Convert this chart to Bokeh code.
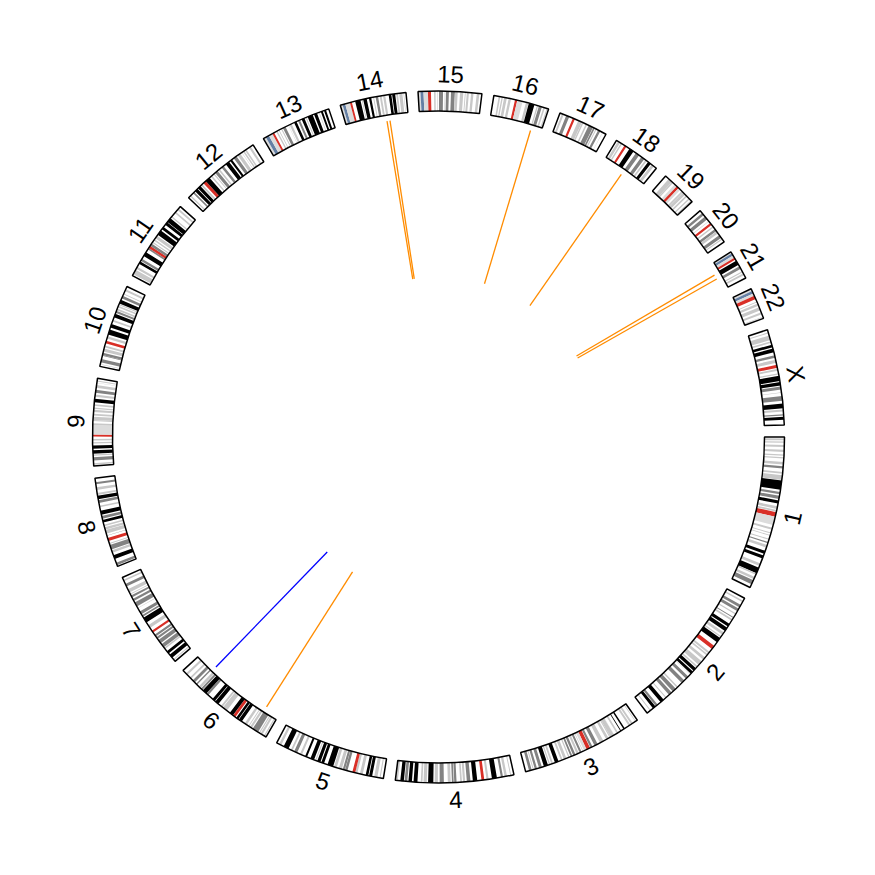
import math
from bokeh.plotting import figure
from bokeh.models import ColumnDataSource
from bokeh.embed import file_html
from bokeh.resources import INLINE
from bokeh.core.properties import value

# ---------------- data ----------------
CHROMS = ["1", "2", "3", "4", "5", "6", "7", "8", "9", "10", "11", "12",
          "13", "14", "15", "16", "17", "18", "19", "20", "21", "22", "X"]
CHROM_LENGTHS_MB = [249.25, 243.20, 198.02, 191.15, 180.92, 171.12, 159.14,
                    146.36, 141.21, 135.53, 135.01, 133.85, 115.17, 107.35,
                    102.53, 90.35, 81.20, 78.08, 59.13, 63.03, 48.13, 51.30,
                    155.27]

# stained (non-gneg) cytobands, Mb
BANDS_1 = [(2.3,5.4,"gpos25"),(7.2,9.2,"gpos25"),(12.7,16.2,"gpos50"),(20.4,23.9,"gpos25"),
           (28.0,30.2,"gpos25"),(32.4,34.6,"gpos25"),(40.1,44.1,"gpos25"),(46.8,50.7,"gpos75"),
           (56.1,59.0,"gpos50"),(61.3,68.9,"gpos50"),(69.7,84.9,"gpos100"),(88.4,92.0,"gpos75"),
           (94.7,99.7,"gpos75"),(102.2,107.2,"gpos100"),(111.8,116.1,"gpos50"),(117.8,120.6,"gpos50"),
           (121.5,128.9,"acen"),(128.9,142.6,"gvar"),(147.0,150.3,"gpos50"),(155.0,156.5,"gpos50"),
           (159.1,160.5,"gpos50"),(165.5,167.2,"gpos50"),(170.9,172.9,"gpos75"),(176.0,180.3,"gpos50"),
           (185.8,190.8,"gpos100"),(193.8,198.7,"gpos100"),(207.2,211.5,"gpos25"),(214.5,224.1,"gpos100"),
           (224.6,227.0,"gpos25"),(230.7,234.7,"gpos50"),(236.6,243.7,"gpos75")]
BANDS_2 = [(4.4,7.1,"gpos50"),(12.2,16.7,"gpos75"),(19.2,24.0,"gpos75"),(27.9,30.0,"gpos25"),
           (35.1,36.6,"gpos75"),(38.6,41.6,"gpos50"),(47.6,52.7,"gpos100"),(54.7,61.3,"gpos100"),
           (63.9,68.4,"gpos50"),(71.5,73.5,"gpos50"),(75.0,83.3,"gpos100"),(90.5,96.8,"acen"),
           (102.7,106.0,"gpos50"),(107.5,110.2,"gpos25"),(114.4,118.8,"gpos50"),(122.4,129.9,"gpos50"),
           (132.5,135.1,"gpos25"),(136.8,142.2,"gpos100"),(144.1,148.7,"gpos100"),(149.9,150.5,"gpos25"),
           (154.9,159.8,"gpos75"),(163.7,169.7,"gpos75"),(178.0,180.6,"gpos50"),(183.0,189.4,"gpos75"),
           (191.9,197.4,"gpos75"),(203.3,204.9,"gpos50"),(209.0,215.3,"gpos100"),(221.5,225.2,"gpos75"),
           (226.1,231.0,"gpos100"),(235.6,237.3,"gpos50")]
BANDS_3 = [(2.8,4.0,"gpos50"),(8.7,11.8,"gpos50"),(13.3,16.4,"gpos50"),(23.9,26.4,"gpos100"),
           (30.9,32.1,"gpos100"),(36.5,39.3,"gpos50"),(43.7,44.1,"gpos50"),(44.2,50.6,"gpos25"),
           (50.6,52.3,"gpos25"),(54.4,58.6,"gpos50"),(63.7,69.8,"gpos50"),(74.2,79.8,"gpos75"),
           (83.5,87.2,"gpos75"),(87.9,93.9,"acen"),(93.9,98.3,"gvar"),(100.0,100.9,"gpos25"),
           (102.8,106.2,"gpos75"),(107.9,111.3,"gpos50"),(113.5,117.3,"gpos75"),(119.0,121.9,"gpos75"),
           (123.8,125.8,"gpos25"),(129.2,133.7,"gpos25"),(135.7,138.7,"gpos25"),(142.8,148.9,"gpos100"),
           (152.1,155.0,"gpos50"),(157.0,159.0,"gpos50"),(160.7,167.6,"gpos100"),(170.9,175.7,"gpos75"),
           (179.0,182.7,"gpos75"),(184.5,186.0,"gpos25"),(187.9,192.3,"gpos75")]
BANDS_4 = [(4.5,6.0,"gpos25"),(11.3,15.2,"gpos50"),(17.8,21.3,"gpos75"),(27.7,35.8,"gpos100"),
           (41.2,44.6,"gpos50"),(48.2,52.7,"acen"),(59.5,66.6,"gpos100"),(70.5,76.3,"gpos75"),
           (78.9,82.4,"gpos50"),(84.1,86.9,"gpos25"),(92.8,96.5,"gpos75"),(97.4,100.2,"gpos75"),
           (102.2,106.8,"gpos50"),(113.2,119.9,"gpos75"),(122.8,127.9,"gpos50"),(130.1,138.5,"gpos100"),
           (140.6,145.9,"gpos25"),(147.5,150.3,"gpos25"),(155.6,161.8,"gpos100"),(164.5,170.1,"gpos100"),
           (171.9,176.3,"gpos75"),(177.5,183.2,"gpos100"),(187.1,191.15,"gpos25")]
BANDS_5 = [(4.5,6.3,"gpos25"),(9.8,15.0,"gpos50"),(18.4,23.3,"gpos100"),(24.6,28.9,"gpos100"),
           (33.8,38.4,"gpos25"),(42.5,46.1,"gpos50"),(46.1,50.7,"acen"),(58.9,62.9,"gpos75"),
           (63.2,66.7,"gpos75"),(68.4,73.3,"gpos50"),(76.9,81.4,"gpos50"),(82.8,92.3,"gpos100"),
           (98.2,102.8,"gpos100"),(104.5,109.6,"gpos100"),(111.5,113.1,"gpos50"),(115.2,121.4,"gpos100"),
           (127.3,130.6,"gpos100"),(136.2,139.5,"gpos25"),(144.5,149.8,"gpos75"),(152.7,155.7,"gpos50"),
           (159.9,168.5,"gpos100"),(172.8,176.6,"gpos25")]
BANDS_6 = [(2.3,4.2,"gpos25"),(7.1,10.6,"gpos50"),(11.6,13.4,"gpos25"),(15.2,25.2,"gpos75"),
           (27.0,30.4,"gpos50"),(32.1,33.5,"gpos25"),(36.6,40.5,"gpos25"),(46.2,51.8,"gpos100"),
           (52.9,57.0,"gpos100"),(58.7,63.3,"acen"),(63.4,70.0,"gpos100"),(75.9,83.9,"gpos50"),
           (84.9,88.0,"gpos50"),(93.1,99.5,"gpos100"),(100.6,105.5,"gpos100"),(114.6,118.3,"gpos75"),
           (118.5,126.1,"gpos100"),(127.1,130.3,"gpos75"),(131.2,135.2,"gpos50"),(139.0,141.2,"gpos75"),
           (144.3,149.0,"gpos75"),(152.5,155.5,"gpos50"),(161.0,164.5,"gpos50")]
BANDS_7 = [(2.8,4.5,"gpos25"),(7.3,13.8,"gpos100"),(16.5,20.9,"gpos100"),(25.5,28.0,"gpos50"),
           (28.8,35.0,"gpos75"),(37.2,43.3,"gpos75"),(45.4,49.0,"gpos75"),(50.5,54.0,"gpos75"),
           (58.0,61.7,"acen"),(67.0,72.2,"gpos50"),(77.5,86.4,"gpos100"),(88.2,91.1,"gpos75"),
           (92.8,98.0,"gpos75"),(103.8,104.5,"gpos50"),(107.4,114.6,"gpos75"),(117.4,121.1,"gpos75"),
           (123.8,127.1,"gpos75"),(129.2,130.4,"gpos25"),(132.6,138.2,"gpos50"),(143.1,147.9,"gpos75"),
           (152.6,155.1,"gpos25")]
BANDS_8 = [(2.2,6.2,"gpos75"),(12.7,19.0,"gpos100"),(23.3,27.4,"gpos50"),(28.8,36.5,"gpos75"),
           (38.3,39.7,"gpos25"),(43.1,48.1,"acen"),(52.2,52.6,"gpos75"),(55.5,61.6,"gpos50"),
           (62.2,66.0,"gpos50"),(68.0,70.5,"gpos50"),(73.9,78.3,"gpos100"),(80.1,84.6,"gpos75"),
           (86.9,93.3,"gpos100"),(99.0,101.6,"gpos25"),(106.2,110.5,"gpos75"),(112.1,117.7,"gpos100"),
           (119.2,122.5,"gpos50"),(127.3,131.5,"gpos50"),(136.4,139.9,"gpos75")]
BANDS_9 = [(2.2,4.6,"gpos25"),(9.0,14.2,"gpos75"),(16.6,18.5,"gpos25"),(19.9,25.6,"gpos100"),
           (28.0,33.2,"gpos100"),(36.3,38.4,"gpos25"),(41.0,43.6,"gpos50"),(47.3,50.7,"acen"),
           (50.7,65.9,"gvar"),(65.9,68.7,"gpos25"),(72.2,74.0,"gpos25"),(74.0,79.2,"gpos50"),
           (81.1,84.1,"gpos50"),(86.9,90.4,"gpos50"),(91.8,93.9,"gpos25"),(96.6,99.3,"gpos25"),
           (102.6,108.2,"gpos100"),(111.3,114.9,"gpos25"),(117.7,122.5,"gpos75"),(125.8,130.3,"gpos25"),
           (133.5,134.0,"gpos25"),(135.9,137.4,"gpos25")]
BANDS_10 = [(3.0,3.8,"gpos25"),(6.6,12.2,"gpos75"),(17.3,18.6,"gpos75"),(18.7,22.6,"gpos75"),
            (24.6,29.6,"gpos50"),(31.3,34.4,"gpos25"),(38.0,42.3,"acen"),(46.1,49.9,"gpos25"),
            (52.9,61.2,"gpos100"),(64.5,70.6,"gpos100"),(74.9,77.7,"gpos50"),(82.0,87.9,"gpos100"),
            (89.5,92.9,"gpos75"),(94.1,97.0,"gpos50"),(99.3,101.9,"gpos50"),(103.0,104.9,"gpos25"),
            (105.8,111.9,"gpos100"),(114.9,119.1,"gpos75"),(121.7,123.1,"gpos50"),(127.5,130.6,"gpos50")]
BANDS_11 = [(2.8,10.7,"gpos50"),(12.7,16.2,"gpos50"),(21.7,26.1,"gpos100"),(27.2,31.0,"gpos75"),
            (36.4,43.5,"gpos100"),(48.8,51.6,"gpos75"),(51.6,55.7,"acen"),(55.7,59.9,"gpos75"),
            (61.7,63.4,"gpos25"),(65.9,68.4,"gpos25"),(70.4,75.2,"gpos50"),(77.1,85.6,"gpos100"),
            (88.3,92.8,"gpos100"),(97.2,102.1,"gpos100"),(102.9,110.4,"gpos100"),(112.5,114.5,"gpos50"),
            (121.2,123.9,"gpos50"),(127.8,130.8,"gpos50")]
BANDS_12 = [(3.3,5.4,"gpos25"),(10.1,12.8,"gpos75"),(14.8,20.0,"gpos100"),(21.3,26.5,"gpos100"),
            (27.8,30.7,"gpos50"),(33.3,38.2,"acen"),(38.2,46.4,"gpos100"),(49.1,51.5,"gpos25"),
            (54.9,56.6,"gpos25"),(58.1,63.1,"gpos75"),(65.1,67.7,"gpos50"),(71.5,75.7,"gpos75"),
            (80.3,86.7,"gpos100"),(89.0,92.6,"gpos100"),(96.2,101.6,"gpos75"),(103.8,109.0,"gpos50"),
            (111.7,112.3,"gpos25"),(114.3,116.8,"gpos50"),(118.1,120.7,"gpos50"),(125.9,129.3,"gpos50")]
BANDS_13 = [(0.0,4.5,"gvar"),(4.5,10.0,"stalk"),(10.0,16.3,"gvar"),(16.3,19.5,"acen"),
            (23.3,25.5,"gpos25"),(27.8,28.9,"gpos25"),(32.2,34.0,"gpos50"),(35.5,40.1,"gpos75"),
            (45.2,45.8,"gpos25"),(47.3,50.9,"gpos50"),(55.3,59.6,"gpos100"),(62.3,65.7,"gpos75"),
            (68.6,73.3,"gpos100"),(75.4,77.2,"gpos50"),(79.0,87.7,"gpos100"),(90.0,95.0,"gpos100"),
            (98.2,99.3,"gpos25"),(101.7,104.8,"gpos100"),(107.0,110.3,"gpos100")]
BANDS_14 = [(0.0,3.7,"gvar"),(3.7,8.1,"stalk"),(8.1,16.0,"gvar"),(16.0,19.1,"acen"),
            (24.6,33.3,"gpos100"),(35.3,36.6,"gpos50"),(37.8,43.5,"gpos100"),(47.2,50.9,"gpos100"),
            (54.1,55.5,"gpos25"),(58.1,62.1,"gpos75"),(64.8,67.9,"gpos50"),(70.2,73.8,"gpos50"),
            (79.3,83.6,"gpos100"),(84.9,89.8,"gpos100"),(91.4,94.3,"gpos25"),(96.3,101.4,"gpos50"),
            (103.2,104.0,"gpos50")]
BANDS_15 = [(0.0,3.9,"gvar"),(3.9,8.7,"stalk"),(8.7,15.8,"gvar"),(15.8,20.7,"acen"),
            (25.7,28.1,"gpos50"),(30.3,31.2,"gpos50"),(33.6,40.1,"gpos75"),(42.8,43.6,"gpos25"),
            (44.8,49.5,"gpos75"),(52.9,59.1,"gpos75"),(59.3,63.7,"gpos25"),(67.2,67.3,"gpos25"),
            (67.5,72.7,"gpos25"),(75.2,76.6,"gpos25"),(78.3,81.7,"gpos50"),(85.2,89.1,"gpos50"),
            (94.3,98.5,"gpos50")]
BANDS_16 = [(7.9,10.5,"gpos50"),(12.6,14.8,"gpos50"),(16.8,21.2,"gpos50"),(24.2,28.1,"gpos50"),
            (34.6,38.4,"acen"),(38.4,47.0,"gvar"),(52.6,56.7,"gpos50"),(57.4,66.7,"gpos100"),
            (70.8,72.9,"gpos50"),(74.1,79.2,"gpos75"),(81.7,84.2,"gpos50"),(87.1,88.7,"gpos25")]
BANDS_17 = [(3.3,6.5,"gpos50"),(10.7,16.0,"gpos75"),(22.2,25.8,"acen"),(31.8,38.1,"gpos50"),
            (38.4,40.9,"gpos25"),(44.9,47.4,"gpos25"),(50.2,57.6,"gpos75"),(58.3,61.1,"gpos75"),
            (62.6,64.2,"gpos50"),(67.1,70.9,"gpos75"),(74.8,75.3,"gpos25")]
BANDS_18 = [(2.9,7.1,"gpos50"),(8.5,10.9,"gpos25"),(15.4,19.0,"acen"),(25.0,32.7,"gpos100"),
            (37.2,43.5,"gpos75"),(48.2,53.8,"gpos75"),(56.2,59.0,"gpos50"),(61.6,66.8,"gpos100"),
            (68.7,73.1,"gpos25")]
BANDS_19 = [(6.9,13.9,"gpos25"),(14.0,16.3,"gpos25"),(20.0,24.4,"gvar"),(24.4,28.6,"acen"),
            (28.6,32.4,"gvar"),(35.5,38.3,"gpos25"),(38.7,43.4,"gpos25"),(45.2,48.0,"gpos25"),
            (51.4,53.6,"gpos25"),(56.3,59.13,"gpos25")]
BANDS_20 = [(5.1,9.2,"gpos75"),(12.1,17.9,"gpos75"),(21.3,22.3,"gpos25"),(25.6,29.4,"acen"),
            (32.1,34.4,"gpos25"),(37.6,41.7,"gpos75"),(42.1,46.4,"gpos25"),(49.8,55.0,"gpos75"),
            (56.5,58.4,"gpos50")]
BANDS_21 = [(0.0,2.8,"gvar"),(2.8,6.8,"stalk"),(6.8,10.9,"gvar"),(10.9,14.3,"acen"),
            (16.4,24.0,"gpos100"),(26.8,31.5,"gpos75"),(35.8,37.8,"gpos50"),(39.7,42.6,"gpos50")]
BANDS_22 = [(0.0,3.8,"gvar"),(3.8,8.3,"stalk"),(8.3,12.2,"gvar"),(12.2,17.9,"acen"),
            (22.2,23.5,"gpos25"),(25.9,29.6,"gpos50"),(32.2,37.6,"gpos50"),(41.0,44.2,"gpos50"),
            (48.4,49.4,"gpos50")]
BANDS_X = [(4.3,6.0,"gpos50"),(9.5,17.1,"gpos50"),(19.3,21.9,"gpos50"),(24.9,29.3,"gpos100"),
           (31.5,37.6,"gpos100"),(42.4,46.4,"gpos75"),(49.8,54.8,"gpos25"),(58.1,63.0,"acen"),
           (64.6,67.8,"gpos50"),(71.8,73.9,"gpos50"),(76.0,84.6,"gpos100"),(86.2,91.8,"gpos100"),
           (93.5,98.3,"gpos75"),(102.6,103.7,"gpos50"),(108.7,116.5,"gpos75"),(120.9,128.7,"gpos100"),
           (130.4,133.6,"gpos25"),(138.0,140.3,"gpos75"),(142.1,147.1,"gpos100")]

CHROM_BANDS = [BANDS_1, BANDS_2, BANDS_3, BANDS_4, BANDS_5, BANDS_6, BANDS_7, BANDS_8,
               BANDS_9, BANDS_10, BANDS_11, BANDS_12, BANDS_13, BANDS_14, BANDS_15, BANDS_16,
               BANDS_17, BANDS_18, BANDS_19, BANDS_20, BANDS_21, BANDS_22, BANDS_X]

# radial marks: chromosome, position (Mb), colour
MARK_CHROMS = ["14", "14", "16", "18", "21", "21", "6", "6"]
MARK_POS_MB = [70.0, 75.2, 72.5, 37.6, 18.8, 26.5, 25.3, 137.1]
MARK_COLORS = ["#FF8C00", "#FF8C00", "#FF8C00", "#FF8C00", "#FF8C00", "#FF8C00",
               "#FF8C00", "#0000FF"]

# ---------------- styling / geometry ----------------
STAIN_COLORS = {"gpos100": "#000000", "gpos75": "#828282", "gpos50": "#C8C8C8",
                "gpos25": "#C8C8C8", "gvar": "#DCDCDC", "acen": "#D92F27",
                "stalk": "#647FA4", "gneg": "#FFFFFF"}
GAP_DEG = 2.0
R_OUT, R_IN = 346.0, 326.0
LABEL_R = 363.0
MARK_R0, MARK_R1 = 320.0, 160.0
CX, CY = 438.0, 436.5
W = H = 875

total = sum(CHROM_LENGTHS_MB)
deg_per_mb = (360.0 - GAP_DEG * len(CHROMS)) / total
starts = {}
cum = 0.0
for i, (c, L) in enumerate(zip(CHROMS, CHROM_LENGTHS_MB)):
    starts[c] = cum * deg_per_mb + i * GAP_DEG
    cum += L


def theta(chrom, pos):
    # clockwise screen angle in degrees from 3 o'clock
    return starts[chrom] + pos * deg_per_mb


def rad_math(th):
    return math.radians(-th)


p = figure(width=W, height=H, x_range=(-CX, W - CX), y_range=(-(H - CY), CY),
           output_backend="svg", toolbar_location=None,
           x_axis_type=None, y_axis_type=None, min_border=0)
p.grid.visible = False
p.outline_line_color = None
p.background_fill_color = "white"
p.border_fill_color = "white"

# chromosome backgrounds
bg = dict(sa=[], ea=[])
for c, L in zip(CHROMS, CHROM_LENGTHS_MB):
    bg["sa"].append(rad_math(theta(c, L)))
    bg["ea"].append(rad_math(theta(c, 0)))
bgs = ColumnDataSource(bg)
p.annular_wedge(x=0, y=0, inner_radius=R_IN, outer_radius=R_OUT, start_angle="sa",
                end_angle="ea", direction="anticlock", source=bgs,
                fill_color="white", line_color=None)

# bands
bd = dict(sa=[], ea=[], col=[])
for c, bands in zip(CHROMS, CHROM_BANDS):
    for s, e, st in bands:
        bd["sa"].append(rad_math(theta(c, e)))
        bd["ea"].append(rad_math(theta(c, s)))
        bd["col"].append(STAIN_COLORS[st])
p.annular_wedge(x=0, y=0, inner_radius=R_IN, outer_radius=R_OUT, start_angle="sa",
                end_angle="ea", direction="anticlock", source=ColumnDataSource(bd),
                fill_color="col", line_color=None)

# outlines
p.annular_wedge(x=0, y=0, inner_radius=R_IN, outer_radius=R_OUT, start_angle="sa",
                end_angle="ea", direction="anticlock", source=bgs,
                fill_color=None, line_color="black", line_width=1.5)

# labels
lab = dict(x=[], y=[], t=[], a=[])
for c, L in zip(CHROMS, CHROM_LENGTHS_MB):
    th = theta(c, L / 2.0)
    a = rad_math(th)
    lab["x"].append(LABEL_R * math.cos(a))
    lab["y"].append(LABEL_R * math.sin(a))
    lab["t"].append(c)
    thm = th % 360
    rot = (90 - thm) if thm < 180 else (270 - thm)
    lab["a"].append(math.radians(rot))
p.text(x="x", y="y", text="t", angle="a", source=ColumnDataSource(lab),
       text_align="center", text_baseline="middle",
       text_font=value("Liberation Sans"), text_font_size="24px", text_color="black")

# radial marks
mk = dict(x0=[], y0=[], x1=[], y1=[], col=[])
for c, pos, col in zip(MARK_CHROMS, MARK_POS_MB, MARK_COLORS):
    a = rad_math(theta(c, pos))
    mk["x0"].append(MARK_R0 * math.cos(a))
    mk["y0"].append(MARK_R0 * math.sin(a))
    mk["x1"].append(MARK_R1 * math.cos(a))
    mk["y1"].append(MARK_R1 * math.sin(a))
    mk["col"].append(col)
p.segment(x0="x0", y0="y0", x1="x1", y1="y1", line_color="col", line_width=1.3,
          source=ColumnDataSource(mk))

open("out.html", "w").write(file_html(p, INLINE))
